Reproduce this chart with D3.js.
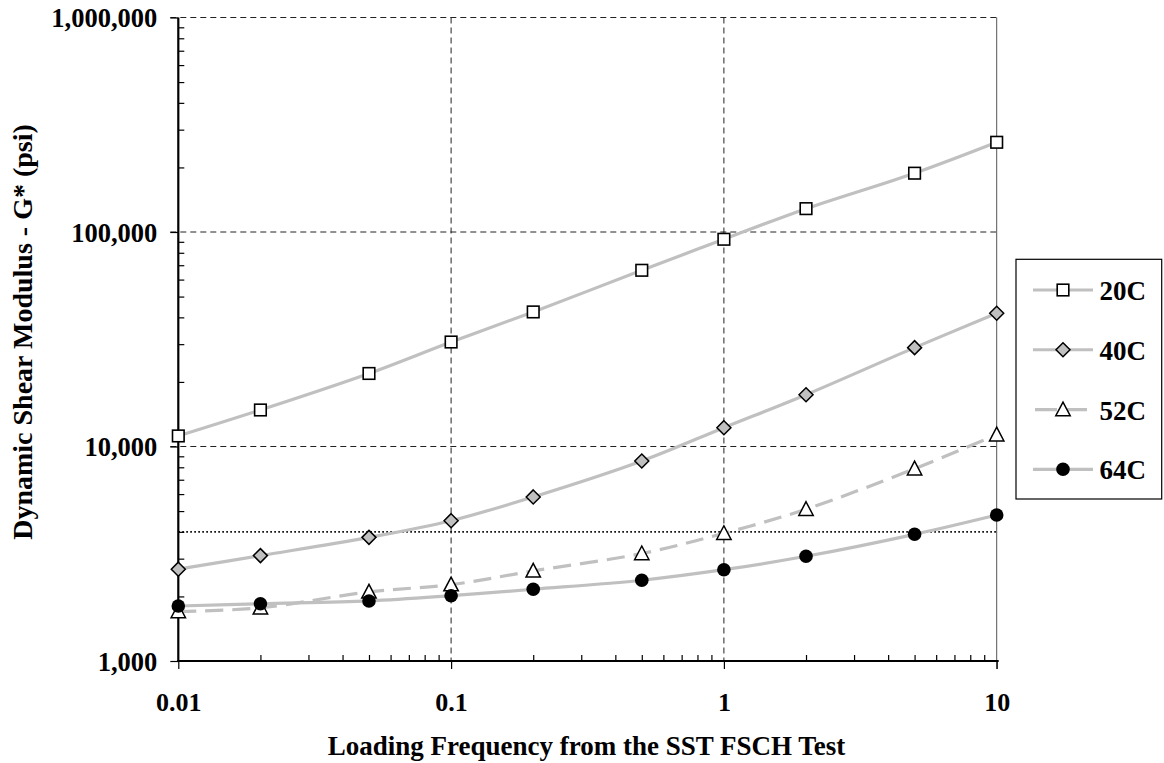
<!DOCTYPE html>
<html>
<head>
<meta charset="utf-8">
<script src="https://cdn.jsdelivr.net/npm/d3@7"></script>
<style>
  html, body { margin: 0; padding: 0; background: #fff; }
  svg { display: block; }
  text { font-family: "Liberation Serif", "Times New Roman", serif; font-weight: bold; fill: #000; }
</style>
</head>
<body>
<svg id="chart" width="1164" height="763"></svg>
<script>
// ---- data ----
const frequencies = [0.01, 0.02, 0.05, 0.1, 0.2, 0.5, 1, 2, 5, 10];
const seriesNames = ["20C", "40C", "52C", "64C"];
const g20 = [11200, 14800, 21900, 30700, 42400, 66300, 92500, 128500, 188000, 262000];
const g40 = [2680, 3100, 3770, 4510, 5820, 8560, 12240, 17440, 28900, 41800];
const g52 = [1700, 1770, 2100, 2270, 2630, 3170, 3940, 5100, 7880, 11350];
const g64 = [1805, 1850, 1905, 2016, 2160, 2380, 2665, 3077, 3896, 4794];
const referenceLevel = 4000;
const xTickValues = [0.01, 0.1, 1, 10];
const yTickValues = [1000, 10000, 100000, 1000000];
const xTitle = "Loading Frequency from the SST FSCH Test";
const yTitle = "Dynamic Shear Modulus - G* (psi)";

// ---- layout ----
const svg = d3.select("#chart");
const pL = 178.3, pR = 996.7, pT = 17.5, pB = 661;
const x = d3.scaleLog().domain([0.01, 10]).range([pL, pR]);
const y = d3.scaleLog().domain([1000, 1000000]).range([pB, pT]);

const seriesValues = [g20, g40, g52, g64];
const styles = [
  {marker: "square", fill: "#fff", dash: null},
  {marker: "diamond", fill: "#c0c0c0", dash: null},
  {marker: "triangle", fill: "#fff", dash: "18,9"},
  {marker: "circle", fill: "#000", dash: null}
];

// gridlines
const grid = svg.append("g");
[0.1, 1].forEach(v => {
  grid.append("line").attr("x1", x(v)).attr("x2", x(v)).attr("y1", pT).attr("y2", pB)
    .attr("stroke", "#222").attr("stroke-width", 1).attr("stroke-dasharray", "6,4");
});
[10000, 100000, 1000000].forEach(v => {
  grid.append("line").attr("x1", pL - 8).attr("x2", pR).attr("y1", y(v)).attr("y2", y(v))
    .attr("stroke", "#222").attr("stroke-width", 1).attr("stroke-dasharray", "6,4");
});
grid.append("line").attr("x1", x(10)).attr("x2", x(10)).attr("y1", pT).attr("y2", pB + 8)
  .attr("stroke", "#555").attr("stroke-width", 1);

// reference dotted line
svg.append("line").attr("x1", pL).attr("x2", pR).attr("y1", y(referenceLevel)).attr("y2", y(referenceLevel))
  .attr("stroke", "#000").attr("stroke-width", 1.6).attr("stroke-dasharray", "1.6,2.4");

// minor ticks
const yMinor = [];
[1000, 10000, 100000].forEach(b => { for (let d = 2; d <= 9; d++) yMinor.push(b * d); });
const xMinor = [];
[0.01, 0.1, 1].forEach(b => { for (let d = 2; d <= 9; d++) xMinor.push(b * d); });

const yMinorAxis = svg.append("g").attr("transform", `translate(${pL},0)`)
  .call(d3.axisRight(y).tickValues(yMinor).tickSize(6).tickFormat(""));
yMinorAxis.select(".domain").remove();
yMinorAxis.selectAll("line").attr("stroke", "#000").attr("stroke-width", 1.2);

const xMinorAxis = svg.append("g").attr("transform", `translate(0,${pB})`)
  .call(d3.axisTop(x).tickValues(xMinor).tickSize(6).tickFormat(""));
xMinorAxis.select(".domain").remove();
xMinorAxis.selectAll("line").attr("stroke", "#000").attr("stroke-width", 1.2);

// major axes
const yAxis = svg.append("g").attr("transform", `translate(${pL},0)`)
  .call(d3.axisLeft(y).tickValues(yTickValues).tickSize(8).tickPadding(13).tickFormat(d3.format(",")));
yAxis.select(".domain").remove();
yAxis.selectAll("line").attr("stroke", "#000").attr("stroke-width", 1.2);
yAxis.selectAll("text").attr("font-size", 26.5).attr("dy", "0.34em")
  .style("font-family", '"Liberation Serif", "Times New Roman", serif').style("font-weight", "bold");

const xAxis = svg.append("g").attr("transform", `translate(0,${pB})`)
  .call(d3.axisBottom(x).tickValues(xTickValues).tickSize(8).tickFormat(d => String(d)));
xAxis.select(".domain").remove();
xAxis.selectAll("line").attr("stroke", "#000").attr("stroke-width", 1.2);
xAxis.selectAll("text").attr("font-size", 26).attr("y", 49.7).attr("dy", 0)
  .style("font-family", '"Liberation Serif", "Times New Roman", serif').style("font-weight", "bold");

// axis lines
svg.append("line").attr("x1", pL).attr("x2", pL).attr("y1", pT).attr("y2", pB + 1)
  .attr("stroke", "#000").attr("stroke-width", 2.2);
svg.append("line").attr("x1", pL - 1).attr("x2", pR + 2).attr("y1", pB).attr("y2", pB)
  .attr("stroke", "#000").attr("stroke-width", 2.2);

// marker drawing
function drawMarker(g, type, fill, cx, cy) {
  if (type === "square") {
    g.append("rect").attr("x", cx - 5.8).attr("y", cy - 5.8).attr("width", 11.6).attr("height", 11.6)
      .attr("fill", fill).attr("stroke", "#000").attr("stroke-width", 1.6);
  } else if (type === "diamond") {
    g.append("path").attr("d", `M${cx},${cy - 7}L${cx + 7},${cy}L${cx},${cy + 7}L${cx - 7},${cy}Z`)
      .attr("fill", fill).attr("stroke", "#000").attr("stroke-width", 1.5);
  } else if (type === "triangle") {
    g.append("path").attr("d", `M${cx},${cy - 7.5}L${cx + 7.2},${cy + 6.2}L${cx - 7.2},${cy + 6.2}Z`)
      .attr("fill", fill).attr("stroke", "#000").attr("stroke-width", 1.5);
  } else {
    g.append("circle").attr("cx", cx).attr("cy", cy).attr("r", 6.8).attr("fill", fill);
  }
}

// series
const line = d3.line().x(d => x(d[0])).y(d => y(d[1])).curve(d3.curveCatmullRom.alpha(0.5));
seriesValues.forEach((vals, i) => {
  const pts = frequencies.map((f, j) => [f, vals[j]]);
  const g = svg.append("g");
  const p = g.append("path").attr("d", line(pts)).attr("fill", "none")
    .attr("stroke", "#c0c0c0").attr("stroke-width", 3.2);
  if (styles[i].dash) p.attr("stroke-dasharray", styles[i].dash);
  pts.forEach(d => drawMarker(g, styles[i].marker, styles[i].fill, x(d[0]), y(d[1])));
});

// legend
const legend = svg.append("g");
legend.append("rect").attr("x", 1016).attr("y", 259.3).attr("width", 145.7).attr("height", 239.7)
  .attr("fill", "#fff").attr("stroke", "#000").attr("stroke-width", 1.2);
const legendY = d3.scalePoint().domain(seriesNames).range([290, 469.3]);
seriesNames.forEach((name, i) => {
  const cy = legendY(name);
  const l = legend.append("line").attr("x1", 1033).attr("x2", 1093).attr("y1", cy).attr("y2", cy)
    .attr("stroke", "#c0c0c0").attr("stroke-width", 3.2);
  if (styles[i].dash) l.attr("stroke-dasharray", "22,8").attr("x1", 1035);
  drawMarker(legend, styles[i].marker, styles[i].fill, 1063, cy);
  legend.append("text").attr("x", 1099.5).attr("y", cy + 10).attr("font-size", 27).text(name);
});

// axis titles
svg.append("text").attr("x", 586.5).attr("y", 755).attr("text-anchor", "middle")
  .attr("font-size", 27).text(xTitle);
svg.append("text").attr("transform", "translate(32,332) rotate(-90)").attr("text-anchor", "middle")
  .attr("font-size", 28).text(yTitle);
</script>
</body>
</html>
